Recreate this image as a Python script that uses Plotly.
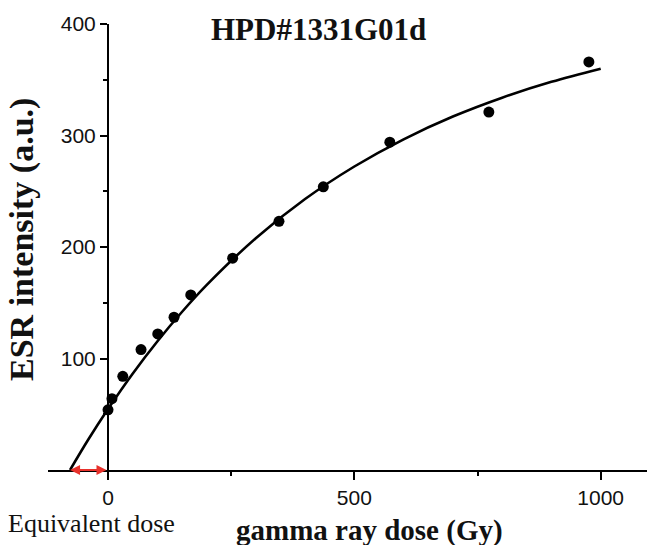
import plotly.graph_objects as go

# Measured data points
dose = [0, 8, 30, 67, 101, 134, 168, 253, 347, 437, 572, 773, 976]
intensity = [54, 64, 84, 108, 122, 137, 157, 190, 223, 254, 294, 321, 366]

# Fitted saturation curve
fit_dose = [-77, -40, 0, 50, 100, 150, 200, 300, 400, 500, 600, 700, 800, 900, 1000]
fit_int = [0, 27.3, 54.7, 86.4, 115.3, 141.7, 165.8, 207.9, 243.0, 272.2, 296.6, 317.0, 333.9, 348.1, 359.9]

equiv_dose = -77

x_ticks = [0, 500, 1000]
x_minor = [250, 750]
y_ticks = [100, 200, 300, 400]
y_minor = [50, 150, 250, 350]

XMIN, XMAX = -121.8, 1094
YMIN, YMAX = 0, 400

serif = "Liberation Serif, Times New Roman, serif"
sans = "Liberation Sans, Arial, sans-serif"

fig = go.Figure()
fig.add_trace(go.Scatter(x=fit_dose, y=fit_int, mode="lines", line=dict(color="black", width=2.6, shape="spline"),
                         hoverinfo="skip", showlegend=False))
fig.add_trace(go.Scatter(x=dose, y=intensity, mode="markers", marker=dict(color="black", size=11),
                         cliponaxis=False, showlegend=False))

ypos = (0 - XMIN) / (XMAX - XMIN)

fig.update_layout(
    width=647, height=545,
    margin=dict(l=48, r=0, t=24, b=75),
    plot_bgcolor="white", paper_bgcolor="white",
    showlegend=False,
    xaxis=dict(range=[XMIN, XMAX], showgrid=False, zeroline=False, showline=True, linecolor="black", linewidth=2,
               ticks="outside", ticklen=8, tickwidth=2, tickcolor="black", tickvals=x_ticks,
               ticktext=[str(v) for v in x_ticks],
               minor=dict(tickvals=x_minor, ticks="outside", ticklen=4, tickwidth=2, tickcolor="black"),
               tickfont=dict(family=sans, size=21, color="#111")),
    yaxis=dict(range=[YMIN, YMAX], anchor="free", position=ypos, showgrid=False, zeroline=False, showline=True,
               linecolor="black", linewidth=2, ticks="outside", ticklen=7, tickwidth=2, tickcolor="black",
               tickvals=y_ticks, ticktext=[str(v) for v in y_ticks],
               minor=dict(tickvals=y_minor, ticks="outside", ticklen=4, tickwidth=2, tickcolor="black"),
               tickfont=dict(family=sans, size=21, color="#111")),
)

fig.add_annotation(x=equiv_dose, y=0, ax=0, ay=0, xref="x", yref="y", axref="x", ayref="y", text="",
                   showarrow=True, arrowside="end+start", arrowhead=2, startarrowhead=2, arrowsize=1,
                   startarrowsize=1, arrowwidth=2, arrowcolor="#e8312b", standoff=0, startstandoff=0)

fig.add_annotation(x=318.5, y=29.5, text="<b>HPD#1331G01d</b>", showarrow=False,
                   font=dict(family=serif, size=31, color="#111"), xanchor="center", yanchor="middle")
fig.add_annotation(x=22, y=240, text="<b>ESR intensity (a.u.)</b>", showarrow=False, textangle=-90,
                   font=dict(family=serif, size=34, color="#111"), xanchor="center", yanchor="middle")
fig.add_annotation(x=369, y=530, text="<b>gamma ray dose (Gy)</b>", showarrow=False,
                   font=dict(family=serif, size=29, color="#111"), xanchor="center", yanchor="middle")
fig.add_annotation(x=91.5, y=523, text="Equivalent dose", showarrow=False,
                   font=dict(family=serif, size=26, color="#111"), xanchor="center", yanchor="middle")

# convert pixel-positioned annotations (last four) to paper coordinates
W, H = 647, 545
L, R, T, B = 48, 0, 24, 75
pw, ph = W - L - R, H - T - B
for a in fig.layout.annotations[1:]:
    px, py = a.x, a.y
    a.xref = "paper"; a.yref = "paper"
    a.x = (px - L) / pw
    a.y = (H - B - py) / ph

fig.write_html("out.html")
